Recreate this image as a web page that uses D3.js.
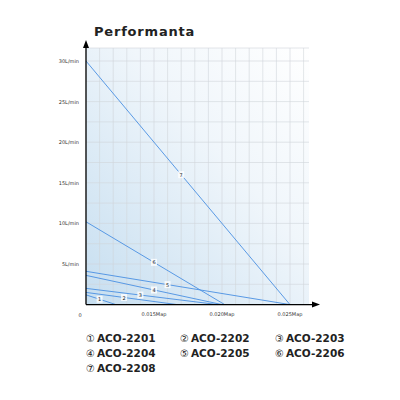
<!DOCTYPE html><html><head><script src="https://d3js.org/d3.v7.min.js"></script>
<style>body{margin:0;background:#fff}</style></head><body><svg id="c" width="400" height="400"></svg>
<script>
const models=["ACO-2201","ACO-2202","ACO-2203","ACO-2204","ACO-2205","ACO-2206","ACO-2208"];
const labels=["1","2","3","4","5","6","7"];
const startFlow=[1.2,1.5,2.0,3.6,4.1,10.2,30];
const endPressure=[0.0122,0.0167,0.0197,0.0200,0.0250,0.0202,0.0250];
const labelPressure=[0.0110,0.0128,0.0140,0.0150,0.0160,0.0150,0.0170];
const yTicks=[5,10,15,20,25,30];
const xTicks=[0.015,0.020,0.025];
const circled=["①","②","③","④","⑤","⑥","⑦"];
const svg=d3.select("#c");
const x=d3.scaleLinear().domain([0.010,0.0264]).range([86,309]);
const y=d3.scaleLinear().domain([0,30]).range([304.6,61]);
const defs=svg.append("defs");
const g=defs.append("linearGradient").attr("id","bg").attr("x1","0").attr("y1","1").attr("x2","1").attr("y2","0");
g.append("stop").attr("offset","0").attr("stop-color","#c6def0");
g.append("stop").attr("offset","0.6").attr("stop-color","#f0f6fb");
g.append("stop").attr("offset","1").attr("stop-color","#ffffff");
svg.append("rect").attr("x",86).attr("y",48).attr("width",223).attr("height",256.6).attr("fill","url(#bg)");
const gx=d3.range(0,18).map(i=>86+i*13.6).filter(v=>v<=309);
svg.selectAll(".gv").data(gx).enter().append("line").attr("x1",d=>d).attr("x2",d=>d).attr("y1",48).attr("y2",304.6).attr("stroke","#d0d5da").attr("stroke-width",0.6);
const gy=d3.range(0,13).map(i=>i*2.5);
svg.selectAll(".gh").data(gy).enter().append("line").attr("x1",86).attr("x2",309).attr("y1",d=>y(d)).attr("y2",d=>y(d)).attr("stroke","#d0d5da").attr("stroke-width",0.6);
svg.append("line").attr("x1",86).attr("x2",309).attr("y1",48).attr("y2",48).attr("stroke","#d0d5da").attr("stroke-width",0.6);
models.forEach((m,i)=>{
 svg.append("line").attr("x1",x(0.010)).attr("y1",y(startFlow[i])).attr("x2",x(endPressure[i])).attr("y2",y(0)).attr("stroke","#4a90e2").attr("stroke-width",0.9);
 const t=(labelPressure[i]-0.010)/(endPressure[i]-0.010);
 const ly=startFlow[i]*(1-t);
 svg.append("rect").attr("x",x(labelPressure[i])-3).attr("y",y(ly)-3.5).attr("width",6).attr("height",7).attr("fill","#fff").attr("opacity",0.8);
 svg.append("text").attr("x",x(labelPressure[i])).attr("y",y(ly)+2).attr("text-anchor","middle").attr("font-size",5).attr("font-family","DejaVu Sans").attr("fill","#222").text(labels[i]);
});
svg.append("line").attr("x1",86).attr("x2",86).attr("y1",304.6).attr("y2",46).attr("stroke","#000").attr("stroke-width",1.3);
svg.append("path").attr("d","M86,40 L83,48 L89,48Z").attr("fill","#000");
svg.append("line").attr("x1",86).attr("x2",313).attr("y1",304.6).attr("y2",304.6).attr("stroke","#000").attr("stroke-width",1.3);
svg.append("path").attr("d","M320,304.6 L312,301.6 L312,307.6Z").attr("fill","#000");
svg.selectAll(".yt").data(yTicks).enter().append("text").attr("x",79).attr("y",d=>y(d)+2).attr("text-anchor","end").attr("font-size",5).attr("font-family","DejaVu Sans").attr("fill","#333").text(d=>d+"L/min");
svg.selectAll(".xt").data(xTicks).enter().append("text").attr("x",d=>x(d)).attr("y",316).attr("text-anchor","middle").attr("font-size",5).attr("font-family","DejaVu Sans").attr("fill","#333").text(d=>d.toFixed(3)+"Map");
svg.append("text").attr("x",80).attr("y",317).attr("text-anchor","middle").attr("font-size",5).attr("font-family","DejaVu Sans").attr("fill","#333").text("0");
svg.append("text").attr("x",94).attr("y",36).attr("font-size",13).attr("font-weight","bold").attr("font-family","DejaVu Sans").attr("letter-spacing",0.8).attr("fill","#222").text("Performanta");
const lx=[86,180,275];
models.forEach((m,i)=>{
 const t=svg.append("text").attr("x",lx[i%3]).attr("y",342+Math.floor(i/3)*15).attr("font-family","DejaVu Sans").attr("fill","#222");
 t.append("tspan").attr("font-size",10).text(circled[i]);
 t.append("tspan").attr("font-size",10.5).attr("font-weight","bold").attr("dx",2).text(m);
});
</script></body></html>
